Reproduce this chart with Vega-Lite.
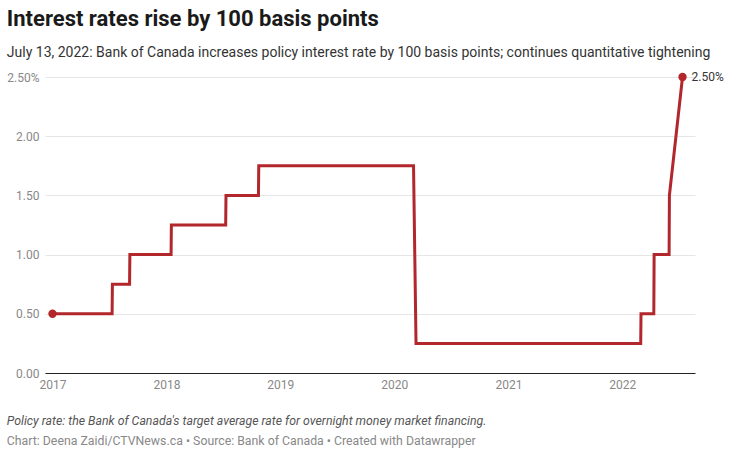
{
  "$schema": "https://vega.github.io/schema/vega-lite/v6.json",
  "background": "white",
  "padding": {"left": 6, "top": 8, "right": 10, "bottom": 8},
  "config": {
    "font": "Roboto",
    "view": {"stroke": null},
    "title": {"font": "Roboto"}
  },
  "title": {
    "text": "Interest rates rise by 100 basis points",
    "subtitle": "July 13, 2022: Bank of Canada increases policy interest rate by 100 basis points; continues quantitative tightening",
    "anchor": "start",
    "fontSize": 22,
    "fontWeight": 700,
    "color": "#1a1a1a",
    "subtitleFontSize": 14,
    "subtitleColor": "#333333",
    "subtitlePadding": 15,
    "offset": 10
  },
  "vconcat": [
    {
      "width": 650,
      "height": 296,
      "title": {
        "text": "Policy rate: the Bank of Canada's target average rate for overnight money market financing.",
        "subtitle": "Chart: Deena Zaidi/CTVNews.ca • Source: Bank of Canada • Created with Datawrapper",
        "orient": "bottom",
        "anchor": "start",
        "fontSize": 12.3,
        "fontStyle": "italic",
        "fontWeight": "normal",
        "color": "#555555",
        "subtitleFontSize": 12.3,
        "subtitleColor": "#888888",
        "subtitlePadding": 8,
        "offset": 25
      },
      "data": {
        "values": [
          {"date": "2017-01-01", "rate": 0.5},
          {"date": "2017-07-11", "rate": 0.5},
          {"date": "2017-07-12", "rate": 0.75},
          {"date": "2017-09-05", "rate": 0.75},
          {"date": "2017-09-06", "rate": 1.0},
          {"date": "2018-01-16", "rate": 1.0},
          {"date": "2018-01-17", "rate": 1.25},
          {"date": "2018-07-10", "rate": 1.25},
          {"date": "2018-07-11", "rate": 1.5},
          {"date": "2018-10-23", "rate": 1.5},
          {"date": "2018-10-24", "rate": 1.75},
          {"date": "2020-03-03", "rate": 1.75},
          {"date": "2020-03-11", "rate": 0.25},
          {"date": "2022-03-01", "rate": 0.25},
          {"date": "2022-03-02", "rate": 0.5},
          {"date": "2022-04-12", "rate": 0.5},
          {"date": "2022-04-13", "rate": 1.0},
          {"date": "2022-05-31", "rate": 1.0},
          {"date": "2022-06-01", "rate": 1.5},
          {"date": "2022-07-13", "rate": 2.5, "label": "2.50%"}
        ]
      },
      "encoding": {
        "x": {
          "field": "date",
          "type": "temporal",
          "scale": {"domain": [{"year": 2016, "month": 12, "date": 8}, {"year": 2022, "month": 8, "date": 22}]},
          "axis": {
            "title": null,
            "format": "%Y",
            "tickCount": "year",
            "grid": false,
            "domainColor": "#222222",
            "domainWidth": 1,
            "ticks": false,
            "labelColor": "#888888",
            "labelFontSize": 12,
            "labelPadding": 6,
            "labelFlush": false
          }
        },
        "y": {
          "field": "rate",
          "type": "quantitative",
          "scale": {"domain": [0, 2.5], "nice": false},
          "axis": {
            "title": null,
            "values": [0, 0.5, 1, 1.5, 2, 2.5],
            "labelExpr": "datum.value == 2.5 ? '2.50%' : format(datum.value, '.2f')",
            "domain": false,
            "ticks": false,
            "gridColor": "#e6e6e6",
            "gridWidth": 1,
            "labelColor": "#888888",
            "labelFontSize": 12,
            "labelPadding": 6
          }
        }
      },
      "layer": [
        {
          "mark": {"type": "line", "color": "#b2272b", "strokeWidth": 3, "strokeJoin": "miter"}
        },
        {
          "transform": [
            {"joinaggregate": [{"op": "min", "field": "date", "as": "dmin"}, {"op": "max", "field": "date", "as": "dmax"}]},
            {"filter": "time(datum.date) == time(datum.dmin) || time(datum.date) == time(datum.dmax)"}
          ],
          "mark": {"type": "point", "filled": true, "color": "#b2272b", "size": 70, "opacity": 1}
        },
        {
          "transform": [{"filter": "datum.label != null"}],
          "mark": {"type": "text", "align": "left", "dx": 9, "fontSize": 12, "color": "#333333"},
          "encoding": {"text": {"field": "label"}}
        }
      ]
    }
  ]
}
